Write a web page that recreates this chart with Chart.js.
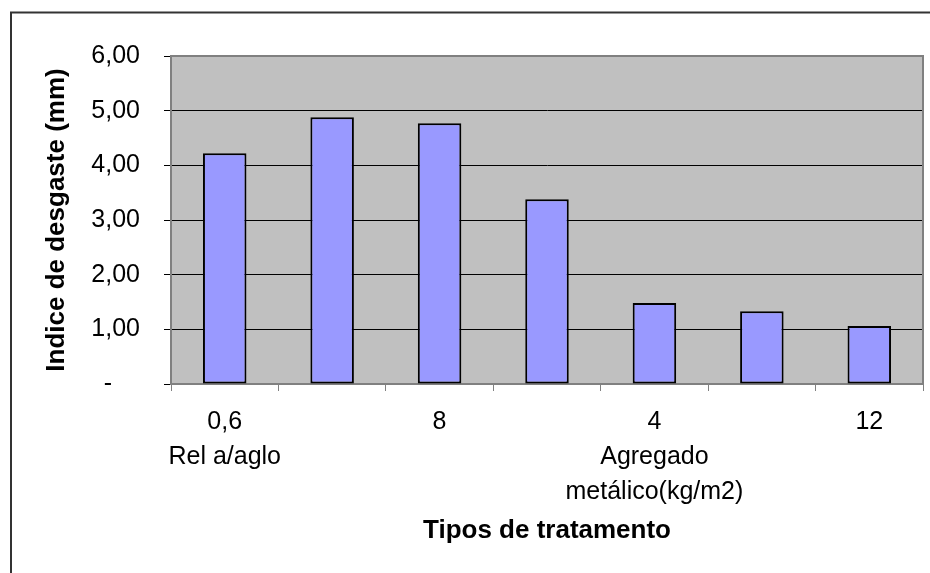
<!DOCTYPE html>
<html>
<head>
<meta charset="utf-8">
<script src="https://cdn.jsdelivr.net/npm/chart.js@4/dist/chart.umd.min.js"></script>
<style>
  html, body { margin: 0; padding: 0; background: #fff; }
  canvas { display: block; }
</style>
</head>
<body>
<canvas id="c" width="930" height="573"></canvas>
<script>
// ---- data ----
const categories = ["0,6", "c2", "8", "c4", "4", "c6", "12"];
const xTickLabels = ["0,6", "", "8", "", "4", "", "12"];
const groupLabels = [["Rel a/aglo"], [], [], [], ["Agregado", "metálico(kg/m2)"], [], []];
const desgaste = [4.22, 4.88, 4.77, 3.38, 1.48, 1.33, 1.06];
const yTickLabels = ["-\u2007\u2007", "1,00", "2,00", "3,00", "4,00", "5,00", "6,00"];
const yTitle = "Indice de desgaste (mm)";
const xTitle = "Tipos de tratamento";

const FONT = "'Liberation Sans', Arial, sans-serif";

const decor = {
  id: 'decor',
  beforeDraw(chart) {
    const {ctx, chartArea: a} = chart;
    ctx.save();
    ctx.fillStyle = '#ffffff';
    ctx.fillRect(0, 0, chart.width, chart.height);
    ctx.fillStyle = '#C0C0C0';
    ctx.fillRect(a.left, a.top, a.right - a.left, a.bottom - a.top);
    ctx.restore();
  },
  afterDraw(chart) {
    const {ctx, chartArea: a} = chart;
    ctx.save();
    // plot border top & right
    ctx.strokeStyle = '#808080';
    ctx.lineWidth = 2;
    ctx.beginPath();
    ctx.moveTo(a.left, a.top);
    ctx.lineTo(a.right, a.top);
    ctx.lineTo(a.right, a.bottom);
    ctx.stroke();
    // outer frame (top & left visible)
    ctx.strokeStyle = '#333333';
    ctx.lineWidth = 2;
    ctx.beginPath();
    ctx.moveTo(11, chart.height);
    ctx.lineTo(11, 12.5);
    ctx.lineTo(chart.width, 12.5);
    ctx.stroke();
    ctx.restore();
  }
};

new Chart(document.getElementById('c'), {
  type: 'bar',
  data: {
    labels: categories,
    datasets: [{
      data: desgaste,
      backgroundColor: '#9999FF',
      borderColor: '#000000',
      borderWidth: 2,
      borderSkipped: false,
      barPercentage: 0.405,
      categoryPercentage: 1.0
    }]
  },
  options: {
    responsive: false,
    animation: false,
    layout: { padding: { left: 0, top: 56, right: 7, bottom: 0 } },
    plugins: { legend: { display: false }, tooltip: { enabled: false } },
    scales: {
      x: {
        type: 'category',
        offset: true,
        grid: { offset: true, drawOnChartArea: false, drawTicks: true, tickLength: 7, tickColor: '#808080' },
        border: { display: true, color: '#808080', width: 2 },
        ticks: {
          autoSkip: false, maxRotation: 0, minRotation: 0,
          color: '#000', padding: 14,
          font: { family: FONT, size: 25, lineHeight: 1.4 },
          callback: (v, i) => {
            const lines = [];
            if (xTickLabels[i]) lines.push(xTickLabels[i]);
            groupLabels[i].forEach(s => lines.push(s));
            return lines.length ? lines : '';
          }
        },
        title: {
          display: true, text: xTitle, color: '#000',
          font: { family: FONT, size: 26, weight: 'bold', lineHeight: 1.2 },
          padding: { top: 0, bottom: 27 }
        },
        afterFit: (s) => { s.height = 189; }
      },
      y: {
        min: 0, max: 6,
        grid: { color: '#000000', lineWidth: 1, drawTicks: true, tickLength: 7, tickColor: '#000' },
        border: { display: true, color: '#808080', width: 2 },
        ticks: {
          stepSize: 1, color: '#000', padding: 24,
          font: { family: FONT, size: 25 },
          callback: (v) => yTickLabels[v]
        },
        title: {
          display: true, text: yTitle, color: '#000',
          font: { family: FONT, size: 26, weight: 'bold', lineHeight: 1.2 },
          padding: { top: 41, bottom: 0 }
        },
        afterFit: (s) => { s.width = 171; }
      }
    }
  },
  plugins: [decor]
});
</script>
</body>
</html>
